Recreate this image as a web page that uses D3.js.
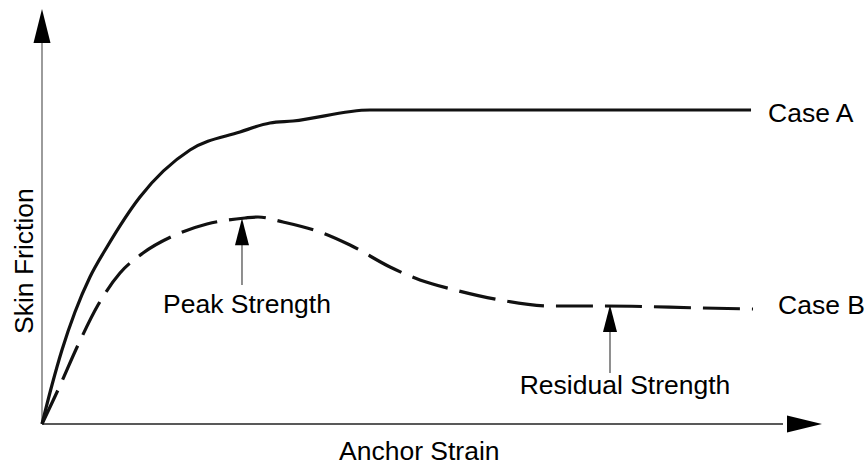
<!DOCTYPE html>
<html><head><meta charset="utf-8">
<script src="https://cdn.jsdelivr.net/npm/d3@7"></script>
<style>body{margin:0;background:#fff}svg{display:block}text{font-family:"Liberation Sans",Arial,sans-serif;fill:#000}</style>
</head><body><svg id="c" width="865" height="466"></svg>
<script>
// Case A (solid): anchor strain vs skin friction
const strainA   = [0, 1.28, 2.56, 4.23, 6.15, 8.33, 12.56, 18.97, 25.38, 29.23, 32.18, 42.05, 90.9];
const frictionA = [0, 9.40, 17.83, 26.99, 35.42, 42.65, 54.70, 66.02, 70.36, 72.53, 73.01, 75.66, 75.66];
// Case B (dashed)
const strainB   = [0, 2.05, 4.62, 7.18, 10.0, 12.95, 16.79, 21.15, 26.03, 27.69, 30.90, 35.64, 39.49, 44.62, 48.46, 52.95, 58.72, 65.38, 72.18, 84.74, 91.15];
const frictionB = [0, 8.19, 19.04, 28.67, 36.39, 41.20, 45.30, 48.19, 49.64, 49.88, 48.67, 46.27, 43.13, 37.83, 34.70, 32.29, 29.88, 28.43, 28.43, 27.95, 27.71];
// annotations: label, strain position, arrow tail friction, arrow tip friction
const annLabels = ["Peak Strength", "Residual Strength"];
const annStrain = [25.64, 72.82];
const annFrom   = [33.5, 12.3];
const annTo     = [49.6, 28.7];
const seriesLabels = ["Case A", "Case B"];
const axisLabels = ["Anchor Strain", "Skin Friction"];

const svg = d3.select("#c");
const x = d3.scaleLinear().domain([0, 100]).range([42, 822]);
const y = d3.scaleLinear().domain([0, 100]).range([424, 9]);

// axes
svg.append("line").attr("x1", x(0)).attr("x2", x(95)).attr("y1", y(0)).attr("y2", y(0))
  .attr("stroke", "#222").attr("stroke-width", 1.3);
svg.append("line").attr("x1", x(0)).attr("x2", x(0)).attr("y1", y(0)).attr("y2", y(93))
  .attr("stroke", "#666").attr("stroke-width", 1.3);
// arrowheads
svg.append("path").attr("d", `M${x(100)},${y(0)} L${x(100)-35},${y(0)-8.5} L${x(100)-35},${y(0)+8.5} Z`).attr("fill", "#000");
svg.append("path").attr("d", `M${x(0)},${y(100)} L${x(0)-8.5},${y(100)+34} L${x(0)+8.5},${y(100)+34} Z`).attr("fill", "#000");

const line = d3.line().x(d => x(d[0])).y(d => y(d[1])).curve(d3.curveMonotoneX);
svg.append("path").attr("d", line(strainA.map((s, i) => [s, frictionA[i]])))
  .attr("fill", "none").attr("stroke", "#111").attr("stroke-width", 3.2);
svg.append("path").attr("d", line(strainB.map((s, i) => [s, frictionB[i]])))
  .attr("fill", "none").attr("stroke", "#111").attr("stroke-width", 3.2)
  .attr("stroke-dasharray", "37,12");

// annotation arrows
annStrain.forEach((s, i) => {
  const ax = x(s), y0 = y(annFrom[i]), y1 = y(annTo[i]);
  svg.append("line").attr("x1", ax).attr("x2", ax).attr("y1", y0).attr("y2", y1 + 26)
    .attr("stroke", "#444").attr("stroke-width", 1.2);
  svg.append("path").attr("d", `M${ax},${y1} L${ax-7},${y1+27} L${ax+7},${y1+27} Z`).attr("fill", "#000");
});

const fs = 26.5;
svg.append("text").attr("x", 247).attr("y", 313).attr("text-anchor", "middle").attr("font-size", fs).text(annLabels[0]);
svg.append("text").attr("x", 625).attr("y", 394).attr("text-anchor", "middle").attr("font-size", fs).text(annLabels[1]);
svg.append("text").attr("x", 768).attr("y", 122).attr("font-size", fs).text(seriesLabels[0]);
svg.append("text").attr("x", 778).attr("y", 314).attr("font-size", fs).text(seriesLabels[1]);
svg.append("text").attr("x", 339).attr("y", 460).attr("font-size", fs).text(axisLabels[0]);
svg.append("text").attr("transform", "translate(33,334) rotate(-90)").attr("font-size", fs).text(axisLabels[1]);
</script></body></html>
